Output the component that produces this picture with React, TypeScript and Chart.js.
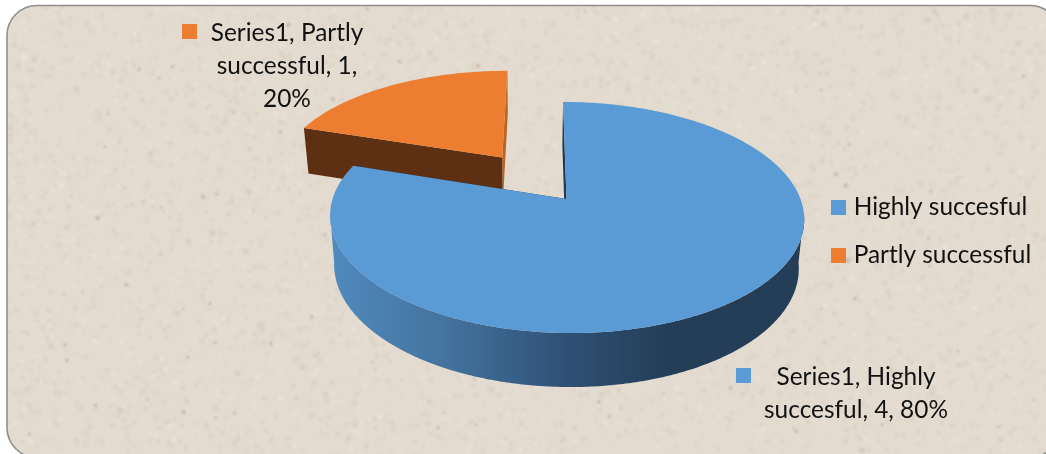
import React, { useEffect, useRef } from "react";
import { Chart, registerables } from "chart.js";

Chart.register(...registerables);

// ---- data ----
const categories = ["Highly succesful", "Partly successful"];
const seriesName = "Series1";
const seriesValues = [4, 1];
const labelLinesHighly = ["Series1, Highly", "succesful, 4, 80%"];
const labelLinesPartly = ["Series1, Partly", "successful, 1,", "20%"];

// ---- styles ----
const sliceColors = ["#5B9BD5", "#ED7D31"];
const explode = [0, 0.485];
const FONT = "Lato, 'Noto Sans', sans-serif";
const FONT_SIZE = 24.4;

// perspective model of the pie: top plane and bottom plane
const persp = 0.16;
const topPlane = { x0: 566.5, y0: 199, A: 234, B: 112.6, C: 4 };
const botPlane = { x0: 565.8, y0: 247.4, A: 229.3, B: 117.3, C: 4 };

type Plane = typeof topPlane;
const project = (pl: Plane, u: number, v: number) => {
  const w = 1 - persp * v;
  return { x: pl.x0 + (pl.A * u + pl.C * v) / w, y: pl.y0 + (pl.B * v) / w };
};

const framePath = (ctx: CanvasRenderingContext2D) => {
  ctx.beginPath();
  ctx.roundRect(7, 5.5, 1053, 452, 30);
};

const makeGrain = () => {
  const c = document.createElement("canvas");
  c.width = 1046;
  c.height = 454;
  const g = c.getContext("2d") as CanvasRenderingContext2D;
  let s = 12345;
  const next = () => {
    s = (s * 1103515245 + 12345) & 0x7fffffff;
    return s / 0x7fffffff;
  };
  for (let i = 0; i < 7000; i++) {
    const x = next() * 1046;
    const y = next() * 454;
    const r = 0.8 + next() * 2.2;
    g.fillStyle = next() < 0.5 ? "rgba(160,145,125,0.08)" : "rgba(250,246,240,0.13)";
    g.beginPath();
    g.arc(x, y, r, 0, Math.PI * 2);
    g.fill();
  }
  for (let i = 0; i < 110; i++) {
    const x = next() * 1046;
    const y = next() * 454;
    g.fillStyle = "rgba(120,110,95,0.35)";
    g.beginPath();
    g.arc(x, y, 0.8 + next() * 1.0, 0, Math.PI * 2);
    g.fill();
  }
  return c;
};

const paintBackground = (ctx: CanvasRenderingContext2D) => {
  ctx.save();
  ctx.fillStyle = "#ffffff";
  ctx.fillRect(0, 0, 1046, 454);
  framePath(ctx);
  ctx.fillStyle = "#E3DBCF";
  ctx.fill();
  ctx.clip();
  ctx.filter = "blur(1px)";
  ctx.drawImage(makeGrain(), 0, 0);
  ctx.filter = "none";
  ctx.restore();
  ctx.save();
  framePath(ctx);
  ctx.strokeStyle = "#8E8E8C";
  ctx.lineWidth = 1.6;
  ctx.stroke();
  ctx.restore();
};

const poly = (ctx: CanvasRenderingContext2D, pts: { x: number; y: number }[], fill: string | CanvasGradient) => {
  ctx.beginPath();
  pts.forEach((p, i) => (i ? ctx.lineTo(p.x, p.y) : ctx.moveTo(p.x, p.y)));
  ctx.closePath();
  ctx.fillStyle = fill;
  ctx.fill();
};

const pie3d = {
  id: "pie3d",
  beforeDraw(chart: any) {
    paintBackground(chart.ctx);
  },
  afterLayout(chart: any) {
    const lg = chart.legend;
    const pad = lg.options.labels.padding;
    lg.left = 835.5 - pad;
    lg.top = 195.3 - pad;
  },
  beforeDatasetsDraw(chart: any) {
    const ctx: CanvasRenderingContext2D = chart.ctx;
    const arcs = chart.getDatasetMeta(0).data;
    const grad = ctx.createLinearGradient(335, 0, 800, 0);
    grad.addColorStop(0, "#5089BD");
    grad.addColorStop(0.23, "#44749F");
    grad.addColorStop(0.5, "#2F5075");
    grad.addColorStop(0.72, "#233E56");
    grad.addColorStop(1, "#233E56");
    const sides = [
      { rim: grad, start: "#1F3A52", end: "#1F3A52" },
      { rim: "#5E3013", start: "#5E3013", end: "#BC6420" },
    ];
    ctx.save();
    for (let i = arcs.length - 1; i >= 0; i--) {
      const { startAngle, endAngle } = arcs[i];
      const mid = (startAngle + endAngle) / 2;
      const ex = Math.cos(mid) * explode[i];
      const ey = Math.sin(mid) * explode[i];
      const T = (u: number, v: number) => project(topPlane, u + ex, v + ey);
      const Bt = (u: number, v: number) => project(botPlane, u + ex, v + ey);
      const steps = Math.ceil((endAngle - startAngle) / 0.01);
      const ang = (k: number) => startAngle + ((endAngle - startAngle) * k) / steps;
      // radial walls
      const c0 = [Math.cos(startAngle), Math.sin(startAngle)];
      const c1 = [Math.cos(endAngle), Math.sin(endAngle)];
      poly(ctx, [T(0, 0), T(c1[0], c1[1]), Bt(c1[0], c1[1]), Bt(0, 0)], sides[i].end);
      poly(ctx, [T(0, 0), T(c0[0], c0[1]), Bt(c0[0], c0[1]), Bt(0, 0)], sides[i].start);
      // outer wall: only the part facing the viewer
      const upper: { x: number; y: number }[] = [];
      const lower: { x: number; y: number }[] = [];
      for (let k = 0; k <= steps; k++) {
        const a = ang(k);
        if (Math.sin(a) > 0.12) {
          upper.push(T(Math.cos(a), Math.sin(a)));
          lower.unshift(Bt(Math.cos(a), Math.sin(a)));
        }
      }
      if (upper.length) poly(ctx, upper.concat(lower), sides[i].rim);
      // top face
      const top = [T(0, 0)];
      for (let k = 0; k <= steps; k++) top.push(T(Math.cos(ang(k)), Math.sin(ang(k))));
      poly(ctx, top, arcs[i].options.backgroundColor);
    }
    ctx.restore();
    return false;
  },
  afterDraw(chart: any) {
    const ctx: CanvasRenderingContext2D = chart.ctx;
    const put = (lines: string[], cx: number, base: number, step: number, sq: number[], color: string) => {
      ctx.fillStyle = color;
      ctx.fillRect(sq[0], sq[1], 15, 15);
      ctx.fillStyle = "#111111";
      ctx.font = `${FONT_SIZE}px ${FONT}`;
      ctx.textAlign = "center";
      ctx.textBaseline = "alphabetic";
      lines.forEach((l, i) => ctx.fillText(l, cx, base + i * step));
    };
    ctx.save();
    put(labelLinesPartly, 287, 41, 33, [182, 24], sliceColors[1]);
    put(labelLinesHighly, 856, 385, 33, [736, 368], sliceColors[0]);
    ctx.restore();
  },
};

export default function App() {
  const ref = useRef<HTMLCanvasElement>(null);
  useEffect(() => {
    document.body.style.margin = "0";
    const chart = new Chart(ref.current as HTMLCanvasElement, {
      type: "pie",
      data: {
        labels: categories,
        datasets: [
          {
            label: seriesName,
            data: seriesValues,
            backgroundColor: sliceColors,
            borderColor: sliceColors,
            borderWidth: 9,
          },
        ],
      },
      options: {
        responsive: false,
        animation: false,
        devicePixelRatio: 1,
        rotation: 0,
        plugins: {
          title: { display: false },
          tooltip: { enabled: false },
          legend: {
            display: true,
            position: "right",
            align: "start",
            labels: {
              boxWidth: 6,
              boxHeight: 6,
              padding: 23.6,
              color: "#111111",
              font: { family: FONT, size: FONT_SIZE },
            },
          },
        },
      },
      plugins: [pie3d],
    } as any);
    return () => chart.destroy();
  }, []);
  return <canvas ref={ref} width={1046} height={454} style={{ display: "block" }} />;
}
